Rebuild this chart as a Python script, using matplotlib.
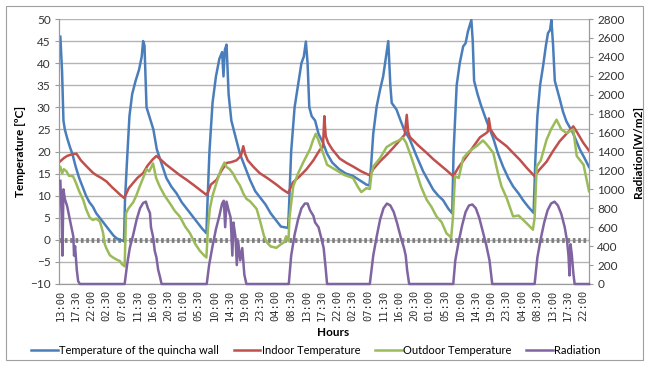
import matplotlib
matplotlib.use("Agg")
import matplotlib.pyplot as plt
from matplotlib.patches import Rectangle

plt.rcParams['font.family'] = ['Lato', 'DejaVu Sans']

# x axis: hours counted from the first reading (13:00)
tick_labels = ["13:00", "17:30", "22:00", "02:30", "07:00", "11:30", "16:00", "20:30",
               "01:00", "05:30", "10:00", "14:30", "19:00", "23:30", "04:00", "08:30",
               "13:00", "17:30", "22:00", "02:30", "07:00", "11:30", "16:00", "20:30",
               "01:00", "05:30", "10:00", "14:30", "19:00", "23:30", "04:00", "08:30",
               "13:00", "17:30", "22:00"]

# Temperature of the quincha wall (hours, ºC)
wall_t = [0, 0.5, 0.9, 1.3, 2.0, 2.8, 3.5, 4.5, 5.5, 6.5, 7.5, 8.5, 9.5, 10.5, 11.5, 12.5,
          13.5, 14.5, 15.5, 16.5, 17.5, 18.6, 18.9, 19.5, 20.2, 21.0, 22.0, 23.0, 23.8,
          24.2, 24.6, 25.2, 26.2, 27.2, 28.2, 29.5, 31.0, 32.5, 34.0, 35.5, 37.0, 38.5,
          40.0, 41.5, 42.7, 43.0, 43.6, 44.5, 45.5, 46.5, 47.3, 47.7, 48.1, 48.6, 49.2,
          50.0, 51.0, 52.5, 54.0, 55.5, 57.0, 58.5, 60.0, 61.5, 63.0, 64.5, 66.0, 66.6,
          66.9, 67.5, 68.5, 69.5, 70.5, 71.2, 71.8, 72.3, 72.8, 73.5, 74.5, 75.5, 76.8,
          78.0, 79.5, 81.5, 83.5, 85.5, 87.5, 89.5, 90.4, 90.8, 91.5, 92.5, 93.5, 94.4,
          95.4, 95.9, 96.5, 96.9, 98.3, 99.5, 100.5, 102.2, 104.2, 106.1, 107.5, 109.0,
          110.5, 111.9, 113.5, 114.6, 115.0, 115.9, 116.8, 117.8, 118.5, 119.2, 120.2,
          120.6, 121.0, 122.0, 123.0, 124.6, 126.6, 128.0, 129.5, 131.0, 132.4, 134.0,
          135.3, 136.8, 138.4, 138.9, 139.5, 140.3, 141.2, 142.0, 142.6, 143.2, 143.6,
          144.1, 144.6, 146.0, 147.0, 148.0, 149.9, 151.9, 153.3, 154.6]
wall_v = [46, 38, 27, 25, 23, 21, 19.5, 16.5, 14, 12, 10, 8.5, 7.5, 6, 5, 4,
          3, 2, 1, 0.3, 0, -0.3, 9, 18, 28, 33, 36, 38.5, 41.5,
          45, 44, 30, 27.5, 25, 20.5, 17.5, 14, 12, 10.5, 8.5, 7, 5.5,
          4, 2.5, 1.5, 8, 20, 31, 37, 41, 42.5, 37, 43, 44.2, 33,
          27, 24, 19.5, 16.5, 13.5, 11, 9.5, 8, 6, 4.5, 3, 2.8, 2.7,
          8, 20, 30, 35, 40, 41.5, 44.9, 40, 30, 28, 27, 24, 22,
          19.5, 17.5, 16, 15, 14.5, 13.5, 12.5, 12.3, 16, 24, 30.2, 34, 37,
          42.3, 45, 35, 31, 29.5, 27, 25, 22.7, 18.9, 15.5, 13.5, 11.4,
          10, 9, 7, 6, 20, 35, 40, 43.8, 44.5, 47.2, 49.8,
          45, 36, 33, 30.5, 27, 23, 19.5, 16.5, 14, 12.1, 10.5,
          9, 7.5, 6.1, 18, 28, 35, 39.5, 44, 46.8, 47.5, 49.8,
          44, 36, 32, 29, 26.8, 24.2, 20.5, 18.5, 16.5]

# Indoor temperature
indoor_t = [0, 1.0, 2.0, 3.5, 4.7, 6.0, 7.7, 9.5, 10.6, 12.0, 13.5, 15.0, 16.4, 17.5, 18.6,
            19.0, 20.0, 21.3, 22.5, 24.2, 25.5, 27.0, 28.1, 29.0, 31.0, 33.0, 35.0, 36.9,
            39.0, 41.0, 42.7, 43.2, 44.0, 45.7, 47.0, 48.6, 50.0, 51.5, 52.8, 53.5, 54.0,
            54.8, 56.5, 58.3, 60.5, 63.2, 65.0, 66.6, 67.0, 68.0, 70.0, 72.0, 74.0, 75.9,
            76.8, 77.2, 77.6, 78.3, 79.5, 81.7, 83.5, 85.6, 88.0, 90.5, 91.5, 93.4, 95.5,
            97.3, 99.0, 100.7, 101.3, 101.7, 102.2, 104.5, 107.1, 109.0, 111.0, 113.0,
            114.9, 116.5, 118.8, 120.5, 122.7, 124.6, 125.0, 125.3, 125.8, 127.5, 130.5,
            132.5, 134.4, 136.5, 138.7, 140.0, 142.2, 144.0, 146.0, 148.0, 149.5, 150.0,
            151.0, 152.9, 154.6]
indoor_v = [17.8, 18.5, 19, 19.4, 19.5, 18, 16.6, 15.2, 14.6, 14, 13.2, 12, 11, 10.2, 9.5,
            10, 11.7, 12.9, 14, 15.1, 16.8, 18.2, 19, 18.4, 17, 15.8, 14.6, 13.6,
            12.4, 11.2, 10.2, 10.8, 12.5, 13.6, 15.5, 17.4, 17.6, 18, 19, 21.2, 19.5,
            18, 16.5, 15.1, 14, 12.5, 11.4, 10.6, 11.2, 13, 14.4, 16, 18, 20.4,
            21, 28, 23.5, 22, 20.5, 18.4, 17.5, 16.6, 15.5, 14.6, 16, 17.7, 19.3,
            20.8, 22.3, 23.8, 28.3, 24.5, 23.3, 21.5, 19.7, 18.3, 17, 15.7,
            14.4, 16.5, 18.9, 20.8, 23.2, 24.2, 24.5, 27.5, 25, 23, 21.2,
            19.6, 18.1, 16.2, 14.4, 15.8, 17.7, 20, 22.3, 24, 25.2, 25.7,
            24.5, 22, 20.2]

# Outdoor temperature
outdoor_t = [0, 0.5, 1.0, 1.8, 2.5, 3.7, 4.5, 5.5, 6.7, 7.5, 8.6, 9.5, 10.5, 11.5, 12.0,
             12.5, 13.0, 13.5, 14.5, 15.4, 16.5, 17.4, 18.0, 18.8, 19.2, 19.8, 21.3, 22.2,
             23.2, 24.2, 25.2, 26.0, 27.1, 28.0, 29.1, 30.5, 32.0, 33.5, 34.9, 36.5, 37.9,
             39.5, 40.8, 42.0, 42.7, 43.2, 43.7, 44.5, 45.7, 47.0, 48.0, 48.6, 49.5, 50.5,
             51.5, 52.5, 53.5, 54.4, 55.5, 57.4, 58.5, 59.5, 60.3, 61.5, 63.2, 64.5, 65.5,
             66.0, 66.7, 67.0, 68.1, 69.5, 71.0, 72.0, 73.0, 73.9, 74.7, 75.5, 76.8, 78.0,
             80.8, 83.0, 85.6, 87.0, 88.0, 89.5, 90.5, 91.0, 91.5, 93.5, 95.4, 97.5, 99.0,
             100.2, 101.1, 102.5, 104.2, 105.5, 107.1, 108.5, 110.0, 111.5, 112.9, 114.3,
             114.8, 115.4, 116.5, 117.8, 119.5, 121.7, 123.6, 124.8, 126.6, 128.0, 129.0,
             130.5, 132.4, 134.0, 136.3, 138.2, 138.7, 139.3, 140.5, 142.2, 143.5, 145.1,
             146.5, 148.0, 150.0, 151.0, 153.0, 154.6]
outdoor_v = [16.5, 15, 16, 15.5, 14.5, 14.4, 13, 11, 9, 7, 5, 4.5, 4.8, 4.2, 3,
             1.5, -1, -2, -3.5, -4, -4.5, -4.8, -5.5, -6, 6, 7, 8.5, 10,
             12.1, 14, 16, 15.5, 17.3, 14, 12, 10, 8.3, 6.5, 5.3, 3, 1.5,
             -1, -2.5, -3.5, -4, 3, 7, 10, 13, 16, 17.5, 16.5, 16, 15,
             13.5, 12.3, 10.5, 9.3, 8.7, 7, 4, 1, -0.5, -1.5, -1.8, -1, -0.5,
             0.8, -0.3, 5, 12.1, 15, 17.5, 19, 20.5, 22.6, 24, 22.5, 19.7, 17,
             15.7, 14.7, 14, 12, 10.8, 11.7, 11.5, 15, 16.6, 18.5, 21, 22, 22.5,
             23.1, 22, 19, 15, 12, 9.1, 7.5, 5.3, 4, 1.5, 0.5,
             5, 14.4, 14, 18.5, 20, 21.2, 22.5, 21.5, 19.7, 15, 12.1,
             9.5, 5.3, 5.5, 3.8, 2.3, 5, 16.6, 18, 22.7, 25, 27.2,
             25, 24.2, 25, 19, 17, 11]

# Radiation (W/m2)
rad_t = [0, 0.4, 0.6, 0.9, 1.3, 2.0, 3.0, 3.8, 4.0, 4.3, 4.8, 5.2, 5.7,
         18.8, 19.5, 20.3, 21.3, 22.3, 23.3, 24.2, 25.0, 25.6, 26.2, 26.5, 27.1, 27.6,
         28.1, 28.6, 29.1, 29.6,
         42.8, 43.5, 44.5, 45.5, 46.5, 47.3, 47.8, 48.2, 48.6, 49.2, 49.8, 50.3, 50.6,
         51.2, 51.6, 52.0, 52.6, 53.2, 53.8, 54.4,
         66.8, 67.5, 68.5, 69.5, 70.5, 71.5, 72.3, 73.0, 74.0, 74.5, 75.5, 76.2, 77.0,
         77.5, 78.0,
         90.5, 91.5, 92.5, 93.5, 94.5, 95.5, 96.5, 97.5, 98.5, 99.5, 100.5, 101.0, 101.4,
         102.0,
         114.9, 115.5, 116.5, 117.5, 118.5, 119.5, 120.5, 121.5, 122.5, 123.5, 124.5,
         125.5, 126.3,
         138.7, 139.5, 140.5, 141.5, 142.5, 143.5, 144.5, 145.5, 146.5, 147.5, 148.2,
         148.6, 148.9, 149.2, 149.6, 150.0, 150.4, 154.6]
rad_v = [1090, 700, 300, 1000, 900, 820, 640, 500, 300, 400, 150, 30, 0,
         0, 200, 380, 520, 680, 800, 856, 870, 800, 750, 600, 500, 350,
         280, 150, 80, 0,
         0, 200, 400, 580, 720, 850, 880, 600, 870, 780, 700, 300, 650,
         500, 200, 450, 250, 380, 100, 0,
         0, 300, 520, 680, 800, 850, 850, 780, 720, 650, 600, 500, 380,
         200, 0,
         0, 300, 500, 680, 800, 850, 830, 760, 640, 500, 380, 300, 150,
         0,
         0, 250, 450, 620, 760, 830, 840, 800, 700, 560, 420,
         250, 0,
         0, 280, 480, 650, 780, 850, 870, 830, 740, 600, 450,
         300, 90, 420, 300, 120, 0, 0]

c_wall, c_in, c_out, c_rad = '#4a7ebb', '#c0504d', '#9bbb59', '#8064a2'
grid_c = '#b4b4b4'

fig = plt.figure(figsize=(6.5, 3.67), dpi=100)
fig.patches.append(Rectangle((6 / 650, 1 - 360 / 367), 637 / 650, 354 / 367,
                             transform=fig.transFigure, fill=False,
                             edgecolor='#a0a0a0', lw=0.8))

ax = fig.add_axes([59 / 650, 1 - 284 / 367, 530 / 650, 265 / 367])
ax2 = ax.twinx()

ax.set_xlim(-0.4, 154.6)
ax.set_ylim(-10, 50)
ax.set_yticks(range(-10, 51, 5))
ax2.set_ylim(0, 2800)
ax2.set_yticks(range(0, 2801, 200))

ax.yaxis.grid(True, color=grid_c, lw=1.0)
ax.set_axisbelow(True)
ax.axhline(0, color='#7f7f7f', lw=3.5, linestyle=(0, (0.55, 0.55)), zorder=1.5)

l1, = ax.plot(wall_t, wall_v, color=c_wall, lw=1.8, zorder=3)
l2, = ax.plot(indoor_t, indoor_v, color=c_in, lw=1.8, zorder=3)
l3, = ax.plot(outdoor_t, outdoor_v, color=c_out, lw=1.8, zorder=3)
l4, = ax2.plot(rad_t, rad_v, color=c_rad, lw=1.8, zorder=3, clip_on=False)

ax.set_xticks([i * 4.5 for i in range(len(tick_labels))])
ax.set_xticklabels(tick_labels, rotation=90, fontsize=7.5, family=['DejaVu Sans Mono'])
ax.tick_params(axis='x', length=0, pad=4, colors='#333333')
ax.tick_params(axis='y', length=3, labelsize=8.5, colors='#333333', pad=3)
ax2.tick_params(axis='y', length=3, labelsize=8.5, colors='#333333', pad=3)
for a in (ax, ax2):
    a.spines['top'].set_visible(False)
    for s in ('left', 'right', 'bottom'):
        a.spines[s].set_color('#9a9a9a')
ax.tick_params(axis='y', color='#9a9a9a')
ax2.tick_params(axis='y', color='#9a9a9a')

ax.set_ylabel('Temperature [ºC]', fontsize=8.5, fontweight='bold', labelpad=3)
ax2.set_ylabel('Radiation[W/m2]', fontsize=8.5, fontweight='bold', labelpad=6)
fig.text(333 / 650, 1 - 333 / 367, 'Hours', fontsize=8.5, fontweight='bold',
         ha='center', va='center')

fig.legend([l1, l2, l3, l4],
           ['Temperature of the quincha wall', 'Indoor Temperature',
            'Outdoor Temperature', 'Radiation'],
           loc='center', bbox_to_anchor=(316 / 650, 1 - 350 / 367), ncol=4,
           frameon=False, fontsize=8, handlelength=2.4, handletextpad=0.15,
           columnspacing=1.3)

fig.savefig('out.png', dpi=100)
